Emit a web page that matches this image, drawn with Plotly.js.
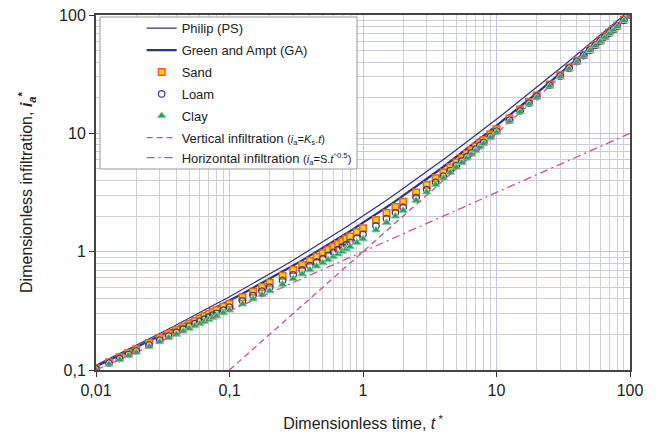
<!DOCTYPE html>
<html>
<head>
<meta charset="utf-8">
<script src="https://cdn.plot.ly/plotly-3.0.1.min.js"></script>
<style>html,body{margin:0;padding:0;background:#fff;}#chart{width:656px;height:435px;}</style>
</head>
<body>
<div id="chart"></div>
<script>
// Dimensionless time t*
const tStar = [
  0.01,0.0125,0.015,0.0175,0.02,0.025,0.03,0.035,0.04,0.045,0.05,0.055,0.06,0.065,0.07,0.075,0.08,0.09,
  0.1,0.125,0.15,0.175,0.2,0.25,0.3,0.35,0.4,0.45,0.5,0.55,0.6,0.65,0.7,0.75,0.8,0.9,
  1,1.25,1.5,1.75,2,2.5,3,3.5,4,4.5,5,5.5,6,6.5,7,7.5,8,9,
  10,12.5,15,17.5,20,25,30,35,40,45,50,55,60,65,70,75,80,90,100
];
// Philip (PS)
const philip = [
  0.110,0.1243,0.1375,0.1498,0.1614,0.1831,0.2032,0.2221,0.2400,0.2571,0.2736,0.2895,0.3049,0.3200,0.3346,0.3489,0.3628,0.3900,
  0.4162,0.4786,0.5373,0.5933,0.6472,0.7500,0.8477,0.9416,1.0325,1.1208,1.2071,1.2916,1.3746,1.4562,1.5367,1.6160,1.6944,1.8487,
  2.000,2.368,2.725,3.073,3.414,4.081,4.732,5.371,6.000,6.621,7.236,7.845,8.450,9.050,9.646,10.239,10.828,12.000,
  13.16,16.04,18.87,21.68,24.47,30.00,35.48,40.92,46.32,51.71,57.07,62.42,67.75,73.06,78.37,83.66,88.94,99.49,110.0
];
// Green and Ampt (GA)
const greenAmpt = [
  0.1068,0.1203,0.1327,0.1442,0.1551,0.1752,0.1938,0.2111,0.2276,0.2432,0.2581,0.2725,0.2865,0.3000,0.3132,0.3260,0.3385,0.3628,
  0.3861,0.4414,0.4931,0.5423,0.5894,0.6788,0.7635,0.8446,0.9229,0.9990,1.0731,1.1456,1.2168,1.2868,1.3557,1.4237,1.4909,1.6230,
  1.7526,2.0682,2.3745,2.6742,2.9684,3.5454,4.1108,4.6683,5.2184,5.7640,6.3054,6.8435,7.3787,7.9114,8.4420,8.9707,9.4978,10.548,
  11.593,14.190,16.771,19.340,21.901,27.004,32.089,37.161,42.224,47.280,52.330,57.376,62.418,67.456,72.492,77.525,82.556,92.614,102.67
];
// Sand
const sand = [
  0.1036,0.1165,0.1283,0.1393,0.1497,0.1687,0.1862,0.2024,0.2179,0.2325,0.2465,0.2597,0.2725,0.2848,0.2968,0.3085,0.3198,0.3419,
  0.3629,0.4128,0.4592,0.5032,0.5452,0.6246,0.6995,0.7710,0.8397,0.9064,0.9712,1.0360,1.0996,1.1621,1.2237,1.2843,1.3442,1.4620,
  1.5773,1.8548,2.1233,2.3851,2.6419,3.1554,3.6586,4.1688,4.6736,5.1755,5.6749,6.1920,6.7087,7.2247,7.7413,8.2575,8.7731,9.8062,
  10.839,13.358,15.877,18.394,20.915,25.921,30.931,35.942,40.962,45.989,51.022,56.022,61.020,66.026,71.035,76.044,81.053,91.086,101.13
];
// Loam
const loam = [
  0.1020,0.1142,0.1251,0.1354,0.1450,0.1628,0.1790,0.1942,0.2085,0.2220,0.2349,0.2469,0.2585,0.2696,0.2805,0.2910,0.3012,0.3209,
  0.3398,0.3842,0.4253,0.4641,0.5010,0.5712,0.6371,0.6998,0.7600,0.8182,0.8746,0.9313,0.9870,1.0414,1.0950,1.1478,1.1999,1.3021,
  1.4021,1.6546,1.8996,2.1394,2.3747,2.8657,3.3503,3.8471,4.3412,4.8348,5.3281,5.8348,6.3420,6.8497,7.3589,7.8691,8.3799,9.4043,
  10.434,12.931,15.438,17.951,20.477,25.446,30.430,35.426,40.438,45.464,50.498,55.448,60.396,65.351,70.310,75.269,80.228,90.160,100.10
];
// Clay
const clay = [
  0.1004,0.1119,0.1223,0.1321,0.1411,0.1578,0.1729,0.1870,0.2002,0.2127,0.2245,0.2356,0.2462,0.2565,0.2664,0.2760,0.2853,0.3033,
  0.3205,0.3607,0.3977,0.4326,0.4656,0.5297,0.5897,0.6466,0.7011,0.7538,0.8048,0.8561,0.9062,0.9553,1.0036,1.0511,1.0979,1.1897,
  1.2794,1.5230,1.7612,1.9952,2.2263,2.7080,3.1859,3.6814,4.1763,4.6729,5.1704,5.6685,6.1671,6.6670,7.1681,7.6708,8.1748,9.1860,
  10.202,12.670,15.151,17.644,20.149,25.073,30.019,34.983,39.965,44.963,49.975,54.915,59.853,64.805,69.759,74.719,79.683,89.623,99.585
];
// Vertical infiltration (i_a = Ks.t)
const vertT = [0.1, 100];
const vertI = [0.1, 100];
// Horizontal infiltration (i_a = S.t^0.5)
const horzT = [0.01, 100];
const horzI = [0.1, 10];
// Tick labels
const xTickVals = [0.01, 0.1, 1, 10, 100];
const xTickText = ['0,01', '0,1', '1', '10', '100'];
const yTickVals = [0.1, 1, 10, 100];
const yTickText = ['0,1', '1', '10', '100'];

function minorVals(lo, hi) {
  const v = [];
  for (let e = lo; e < hi; e++) for (let m = 2; m <= 9; m++) v.push(m * Math.pow(10, e));
  return v;
}

const navy = '#2b3190';
const pink = '#cc4f9c';

const traces = [
  {x: tStar, y: philip, name: 'Philip (PS)', mode: 'lines', legendgroup: 'g1',
   line: {color: navy, width: 1.2}},
  {x: tStar, y: greenAmpt, name: 'Green and Ampt (GA)', mode: 'lines', legendgroup: 'g2',
   line: {color: navy, width: 2.2}},
  {x: tStar, y: sand, name: 'Sand', mode: 'markers', legendgroup: 'g3',
   marker: {symbol: 'square', size: 6.5, color: '#ffd800', line: {color: '#ff5a1e', width: 1.5}}},
  {x: tStar, y: loam, name: 'Loam', mode: 'markers', legendgroup: 'g4',
   marker: {symbol: 'circle-open', size: 6.5, color: '#2b3a9a', line: {width: 1.3}}},
  {x: tStar, y: clay, name: 'Clay', mode: 'markers', legendgroup: 'g5',
   marker: {symbol: 'triangle-up', size: 7.5, color: '#23a25a', line: {color: '#7fd39c', width: 1}}},
  {x: vertT, y: vertI, name: 'Vertical infiltration <span style="font-size:11px">(<i>i</i><sub>a</sub>=<i>K</i><sub>s</sub>.<i>t</i>)</span>',
   mode: 'lines', legendgroup: 'g6', line: {color: pink, width: 1.3, dash: '6px,4px'}},
  {x: horzT, y: horzI, name: 'Horizontal infiltration <span style="font-size:11px">(<i>i</i><sub>a</sub>=S.<i>t</i><sup>^0.5</sup>)</span>',
   mode: 'lines', legendgroup: 'g6', line: {color: pink, width: 1.3, dash: '8px,4px,2px,4px'}}
];

const layout = {
  width: 656, height: 435,
  margin: {l: 96, r: 26, t: 15, b: 65},
  paper_bgcolor: '#fff', plot_bgcolor: '#fff',
  font: {family: 'Arial, "Liberation Sans", sans-serif', color: '#222', size: 13},
  showlegend: true,
  legend: {x: 0.0855, y: 1.005, xanchor: 'left', yanchor: 'top', bgcolor: 'rgba(0,0,0,0)',
           borderwidth: 0, font: {size: 13, color: '#222'}, traceorder: 'grouped', tracegroupgap: 2},
  xaxis: {
    type: 'log', range: [-2, 2], tickmode: 'array', tickvals: xTickVals, ticktext: xTickText,
    tickfont: {size: 16}, ticks: 'outside', ticklen: 5, tickcolor: '#333',
    showline: true, linecolor: '#444', linewidth: 2, mirror: true,
    showgrid: true, gridcolor: '#c3c9e6', gridwidth: 1, zeroline: false,
    minor: {tickmode: 'array', tickvals: minorVals(-2, 2), showgrid: true, gridcolor: '#d0d0d0', ticks: ''},
    title: {text: 'Dimensionless time, <i>t</i><sup> *</sup>', font: {size: 16}, standoff: 20}
  },
  yaxis: {
    type: 'log', range: [-1, 2], tickmode: 'array', tickvals: yTickVals, ticktext: yTickText,
    tickfont: {size: 16}, ticks: 'outside', ticklen: 5, tickcolor: '#333',
    showline: true, linecolor: '#444', linewidth: 2, mirror: true,
    showgrid: true, gridcolor: '#bfc6e4', gridwidth: 1, zeroline: false,
    minor: {tickmode: 'array', tickvals: minorVals(-1, 2), showgrid: true, gridcolor: '#c9cde3', ticks: ''},
    title: {text: 'Dimensionless infiltration, <b><i>i</i></b><sub><b><i>a</i></b></sub><sup><b>*</b></sup>', font: {size: 16}, standoff: 22}
  },
  shapes: [{type: 'rect', xref: 'paper', yref: 'paper', x0: 0.0075, x1: 0.4888, y0: 0.5662, y1: 0.9944,
            fillcolor: '#fff', line: {color: '#9a9a9a', width: 1}, layer: 'above'}]
};

Plotly.newPlot('chart', traces, layout, {displayModeBar: false, staticPlot: true});
</script>
</body>
</html>
